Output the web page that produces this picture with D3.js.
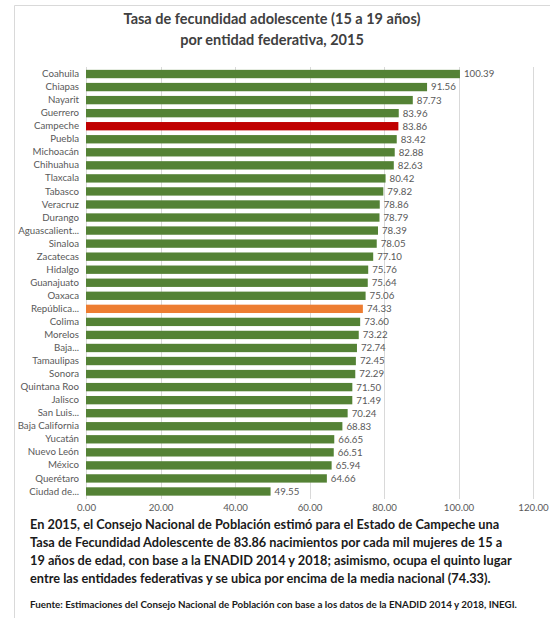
<!DOCTYPE html>
<html>
<head>
<meta charset="utf-8">
<style>
  body { margin: 0; background: #fff; }
  svg text { font-family: Lato, "Open Sans", sans-serif; }
</style>
</head>
<body>
<script src="https://cdnjs.cloudflare.com/ajax/libs/d3/7.8.5/d3.min.js"></script>
<script>
var states = ["Coahuila", "Chiapas", "Nayarit", "Guerrero", "Campeche", "Puebla", "Michoacán",
  "Chihuahua", "Tlaxcala", "Tabasco", "Veracruz", "Durango", "Aguascalient...", "Sinaloa",
  "Zacatecas", "Hidalgo", "Guanajuato", "Oaxaca", "República...", "Colima", "Morelos", "Baja...",
  "Tamaulipas", "Sonora", "Quintana Roo", "Jalisco", "San Luis...", "Baja California", "Yucatán",
  "Nuevo León", "México", "Querétaro", "Ciudad de..."];
var rates = [100.39, 91.56, 87.73, 83.96, 83.86, 83.42, 82.88, 82.63, 80.42, 79.82, 78.86, 78.79,
  78.39, 78.05, 77.10, 75.76, 75.64, 75.06, 74.33, 73.60, 73.22, 72.74, 72.45, 72.29, 71.50,
  71.49, 70.24, 68.83, 66.65, 66.51, 65.94, 64.66, 49.55];
var xTicks = [0, 20, 40, 60, 80, 100, 120];
var highlight = { "Campeche": "#c00000", "República...": "#ed7d31" };

var w = 550, h = 618;

var svg = d3.select("body").append("svg")
  .attr("width", w)
  .attr("height", h);

// frame
svg.append("path")
  .attr("d", "M14.5," + h + "V5.5H" + w)
  .attr("fill", "none")
  .attr("stroke", "#d9d9d9");

// title
svg.append("text")
  .attr("x", 272).attr("y", 24)
  .attr("text-anchor", "middle")
  .attr("font-size", "14.5px").attr("font-weight", "bold").attr("fill", "#404040")
  .selectAll("tspan")
  .data(["Tasa de fecundidad adolescente (15 a 19 años)", "por entidad federativa, 2015"])
  .enter().append("tspan")
  .attr("x", 272)
  .attr("dy", function(d, i) { return i ? 21 : 0; })
  .text(function(d) { return d; });

var x = d3.scaleLinear().domain([0, 120]).range([86, 533]);
var y = d3.scaleBand().domain(states).range([67.5, 498]).paddingInner(0.36).paddingOuter(0.18);

// grid
svg.append("g")
  .selectAll("line")
  .data(xTicks)
  .enter().append("line")
  .attr("x1", function(d) { return Math.round(x(d)) + 0.5; })
  .attr("x2", function(d) { return Math.round(x(d)) + 0.5; })
  .attr("y1", 67).attr("y2", 499)
  .attr("stroke", "#d9d9d9");

// bars
svg.append("g")
  .selectAll("rect")
  .data(rates)
  .enter().append("rect")
  .attr("x", x(0))
  .attr("y", function(d, i) { return y(states[i]); })
  .attr("width", function(d) { return x(d) - x(0); })
  .attr("height", y.bandwidth())
  .attr("fill", function(d, i) { return highlight[states[i]] || "#548235"; });

// value labels
svg.append("g")
  .selectAll("text")
  .data(rates)
  .enter().append("text")
  .attr("x", function(d) { return x(d) + 4; })
  .attr("y", function(d, i) { return y(states[i]) + y.bandwidth() / 2; })
  .attr("dy", "0.35em")
  .attr("font-size", "9.7px").attr("fill", "#595959")
  .text(function(d) { return d.toFixed(2); });

// category axis
var yAxis = svg.append("g")
  .attr("transform", "translate(" + x(0) + ",0)")
  .call(d3.axisLeft(y).tickSize(0).tickPadding(7));
yAxis.select(".domain").remove();
yAxis.selectAll("text").attr("font-size", "9.7px").attr("fill", "#595959");

// value axis
var xAxis = svg.append("g")
  .attr("transform", "translate(0,501)")
  .call(d3.axisBottom(x).tickValues(xTicks).tickSize(0).tickFormat(d3.format(".2f")));
xAxis.select(".domain").remove();
xAxis.selectAll("text").attr("font-size", "9.7px").attr("fill", "#595959");

// note
svg.append("text")
  .attr("font-size", "12.75px").attr("font-weight", "bold").attr("fill", "#1a1a1a")
  .selectAll("tspan")
  .data([
    "En 2015, el Consejo Nacional de Población estimó para el Estado de Campeche una",
    "Tasa de Fecundidad Adolescente de 83.86 nacimientos por cada mil mujeres de 15 a",
    "19 años de edad, con base a la ENADID 2014 y 2018; asimismo, ocupa el quinto lugar",
    "entre las entidades federativas y se ubica por encima de la media nacional (74.33)."
  ])
  .enter().append("tspan")
  .attr("x", 30)
  .attr("y", function(d, i) { return 529 + i * 18; })
  .text(function(d) { return d; });

svg.append("text")
  .attr("x", 30).attr("y", 608)
  .attr("font-size", "9.8px").attr("font-weight", "bold").attr("fill", "#1a1a1a")
  .text("Fuente: Estimaciones del Consejo Nacional de Población con base a los datos de la ENADID 2014 y 2018, INEGI.");
</script>
</body>
</html>
